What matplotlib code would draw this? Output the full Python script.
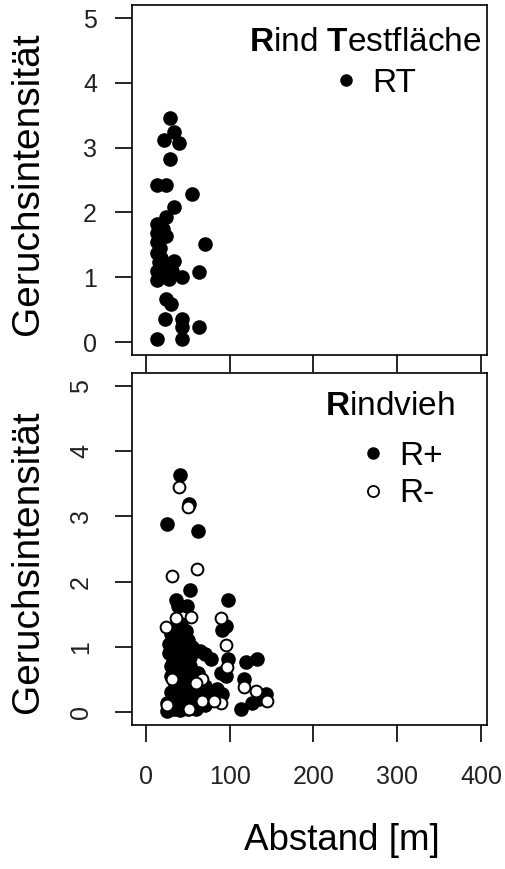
import numpy as np
import matplotlib
matplotlib.use("Agg")
import matplotlib.pyplot as plt
from matplotlib.lines import Line2D

plt.rcParams['font.family'] = ['Liberation Sans', 'DejaVu Sans']
plt.rcParams['mathtext.fontset'] = 'custom'
plt.rcParams['mathtext.rm'] = 'Liberation Sans'
plt.rcParams['mathtext.bf'] = 'Liberation Sans:bold'

# Rind Testflaeche (RT)
rt_x = [28.7, 21.5, 33.5, 39.4, 28.7, 12.7, 23.5, 54.6, 33.5, 23.5, 13.5, 13.5, 23.5,
        13.5, 70.0, 13.5, 15.5, 33.5, 23.5, 13.5, 31.5, 43.4, 63.3, 13.5, 23.5, 23.5,
        29.5, 22.3, 43.4, 43.4, 63.3, 13.5, 43.4, 18.0, 17.0, 26.0, 20.0, 16.0, 28.0]
rt_y = [3.46, 3.12, 3.24, 3.07, 2.83, 2.43, 2.43, 2.28, 2.09, 1.93, 1.82, 1.69, 1.64,
        1.54, 1.51, 1.38, 1.23, 1.25, 1.18, 1.10, 1.10, 1.00, 1.08, 0.95, 1.00, 0.66,
        0.59, 0.35, 0.35, 0.23, 0.23, 0.05, 0.04, 1.30, 1.45, 1.12, 1.75, 1.60, 0.98]

# Rindvieh R+
rp_x = [40.6, 51.4, 25.5, 62.1, 52.6, 35.4, 98.4, 49.4, 37.8, 91.2, 95.0, 119.0, 133.0,
        98.4, 89.0, 117.0, 91.0, 113.0, 127.0, 143.0, 135.0, 25.5, 25.5, 71.0, 78.0, 64.0,
        30.0, 33.0, 36.0, 40.0, 45.0, 50.0, 55.0, 28.0, 32.0, 38.0, 42.0, 48.0, 35.0, 42.0,
        48.0, 28.0, 40.0, 45.0, 50.0, 55.0, 60.0, 65.0, 35.0, 30.0, 38.0, 42.0, 48.0, 55.0,
        62.0, 70.0, 75.0, 80.0, 58.0, 52.0, 35.0, 30.0, 45.0, 33.0, 40.0, 50.0, 60.0, 70.0,
        85.0, 95.0, 38.0, 44.0, 52.0, 32.0, 46.0, 36.0, 44.0, 54.0, 30.0, 40.0, 58.0, 34.0,
        46.0, 62.0, 42.0]
rp_y = [3.63, 3.19, 2.89, 2.77, 1.87, 1.72, 1.72, 1.62, 1.63, 1.26, 1.32, 0.76, 0.82,
        0.82, 0.60, 0.50, 0.27, 0.04, 0.14, 0.27, 0.20, 0.02, 0.13, 0.89, 0.82, 0.93,
        1.20, 1.10, 1.00, 0.95, 1.05, 1.10, 1.00, 0.90, 0.80, 0.85, 0.75, 0.90, 1.30, 1.35,
        1.25, 1.05, 0.60, 0.50, 0.40, 0.30, 0.35, 0.25, 0.40, 0.30, 0.20, 0.10, 0.15, 0.12,
        0.10, 0.40, 0.30, 0.20, 0.60, 0.70, 0.65, 0.55, 0.25, 0.05, 0.03, 0.05, 0.05, 0.10,
        0.35, 0.55, 1.15, 1.20, 0.85, 0.95, 0.70, 0.45, 0.35, 0.50, 0.70, 0.80, 0.20, 1.00,
        0.60, 0.60, 0.15]

# Rindvieh R-
rm_x = [39.4, 50.6, 31.5, 61.3, 35.4, 53.4, 89.0, 23.5, 95.0, 97.0, 31.5, 67.0, 59.7,
        117.0, 131.0, 145.0, 89.0, 51.4, 25.5, 67.0, 81.0]
rm_y = [3.45, 3.14, 2.09, 2.19, 1.44, 1.45, 1.44, 1.30, 1.03, 0.69, 0.50, 0.50, 0.45,
        0.38, 0.32, 0.17, 0.14, 0.04, 0.10, 0.17, 0.17]

x_ticks = [0, 100, 200, 300, 400]
y_ticks = [0, 1, 2, 3, 4, 5]

fig = plt.figure(figsize=(5.05, 8.69), dpi=100)
ax1 = fig.add_axes([0.261, 0.5915, 0.703, 0.4027])
ax2 = fig.add_axes([0.261, 0.1657, 0.703, 0.405])

ms = 90
ax1.scatter(rt_x, rt_y, s=ms, c='black', edgecolors='black', linewidths=1, zorder=3)
ax2.scatter(rp_x, rp_y, s=ms, c='black', edgecolors='black', linewidths=1, zorder=3)
ax2.scatter(rm_x, rm_y, s=ms * 0.8, c='white', edgecolors='black', linewidths=1.4, zorder=4)

for ax in (ax1, ax2):
    ax.set_xlim(-17, 407)
    ax.set_ylim(-0.2, 5.2)
    ax.set_xticks(x_ticks)
    ax.set_yticks(y_ticks)
    for sp in ax.spines.values():
        sp.set_linewidth(1.2)
    ax.tick_params(length=12, width=1.2, labelsize=18, labelcolor='#222222')

ax1.tick_params(axis='x', labelbottom=False)
ax1.tick_params(axis='y', pad=13)
ax2.tick_params(axis='x', pad=17)
ax2.tick_params(axis='y', pad=16)
for lab in ax2.get_yticklabels():
    lab.set_rotation(90)
    lab.set_va('center')

fig.text(28 / 505, 1 - 184 / 869, 'Geruchsintensität', rotation=90, fontsize=28,
         ha='center', va='center')
fig.text(28 / 505, 1 - 562 / 869, 'Geruchsintensität', rotation=90, fontsize=28,
         ha='center', va='center')
fig.text(342 / 505, 1 - 840 / 869, 'Abstand [m]', fontsize=26.5, ha='center', va='center')

# legends
ax1.text(0.985, 0.894, r'$\mathbf{R}$ind $\mathbf{T}$estfläche', transform=ax1.transAxes,
         fontsize=24, ha='right', va='center')
h1 = [Line2D([], [], ls='none', marker='o', color='black', markersize=8)]
ax1.legend(h1, ['RT'], loc='center left', bbox_to_anchor=(0.5, 0.777), frameon=False,
           fontsize=24, handletextpad=0.2, handlelength=1.2, borderpad=0)

ax2.text(0.545, 0.904, r'$\mathbf{R}$indvieh', transform=ax2.transAxes,
         fontsize=24, ha='left', va='center')
h2 = [Line2D([], [], ls='none', marker='o', color='black', markersize=8),
      Line2D([], [], ls='none', marker='o', markerfacecolor='white',
             markeredgecolor='black', markeredgewidth=1.3, markersize=8)]
ax2.legend(h2, ['R+', 'R-'], loc='upper left', bbox_to_anchor=(0.575, 0.855), frameon=False,
           fontsize=24, handletextpad=0.2, handlelength=1.2, borderpad=0, labelspacing=0.2)

fig.savefig('out.png', dpi=100, facecolor='white')
